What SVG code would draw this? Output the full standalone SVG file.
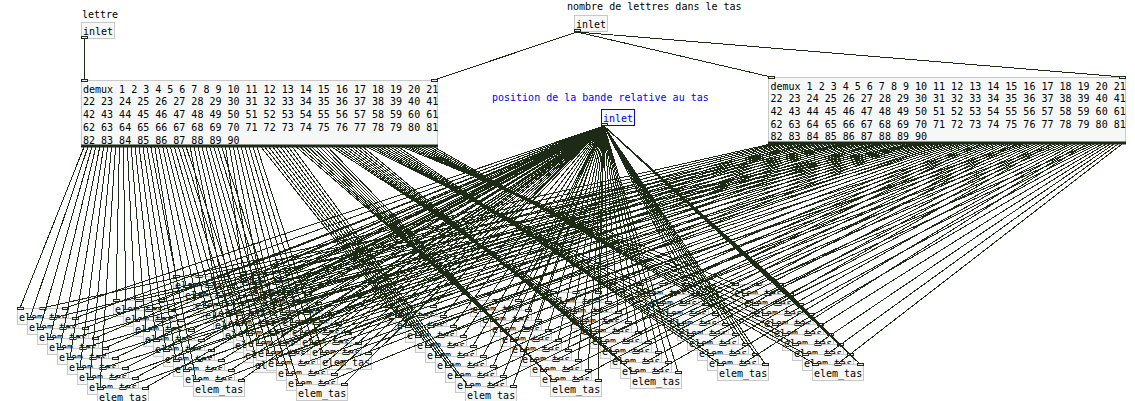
<svg xmlns="http://www.w3.org/2000/svg" xmlns:xlink="http://www.w3.org/1999/xlink" width="1135" height="401" viewBox="0 0 1135 401">
<style>
.b{fill:#f6f8f8;stroke:#c8c8c8;stroke-width:1}
.sel{fill:#f6f8f8;stroke:#0000ff;stroke-width:1}
.t{font-family:"DejaVu Sans Mono","Liberation Mono",monospace;font-size:10px;fill:#000}
.bl{fill:#0000ff}
.io{fill:#eef0ee;stroke:#1c2a16;stroke-width:1}
.band{fill:#1c2a16}
#connectors path{stroke:#1c2a16;stroke-width:1;fill:none}
</style>
<defs>
<g id="io3"><rect class="io" x="0.5" y="-0.5" width="6" height="2"/><rect class="io" x="23" y="-0.5" width="6" height="2"/><rect class="io" x="45.5" y="-0.5" width="6" height="2"/></g>
</defs>
<rect width="1135" height="401" fill="#ffffff"/>
<g id="c_lettre"><text class="t" x="82" y="18">lettre</text></g>
<g id="inlet_lettre"><rect class="b" x="81.5" y="22.5" width="33" height="16"/><text class="t" x="83" y="34.5">inlet</text><rect class="io" x="81.5" y="36.5" width="6" height="2"/></g>
<g id="c_nombre"><text class="t" x="567" y="10">nombre de lettres dans le tas</text></g>
<g id="inlet_nombre"><rect class="b" x="574.5" y="15.5" width="33" height="16"/><text class="t" x="576" y="27.5">inlet</text><rect class="io" x="574.5" y="29.5" width="6" height="2"/></g>
<g id="c_position"><text class="t bl" x="492" y="101">position de la bande relative au tas</text></g>
<g id="inlet_position"><rect class="sel" x="601.5" y="109.5" width="33" height="16"/><text class="t bl" x="603" y="121.5">inlet</text><rect class="io" x="601.5" y="123.5" width="6" height="2"/></g>
<g id="demux_lettre"><rect class="b" x="81.5" y="80.5" width="356" height="66"/>
<text class="t" x="83" y="92.7">demux 1 2 3 4 5 6 7 8 9 10 11 12 13 14 15 16 17 18 19 20 21</text>
<text class="t" x="83" y="105.4">22 23 24 25 26 27 28 29 30 31 32 33 34 35 36 37 38 39 40 41</text>
<text class="t" x="83" y="118.1">42 43 44 45 46 47 48 49 50 51 52 53 54 55 56 57 58 59 60 61</text>
<text class="t" x="83" y="130.8">62 63 64 65 66 67 68 69 70 71 72 73 74 75 76 77 78 79 80 81</text>
<text class="t" x="83" y="143.5">82 83 84 85 86 87 88 89 90</text>
<rect class="io" x="81.5" y="79.5" width="6" height="2"/><rect class="io" x="431.5" y="79.5" width="6" height="2"/>
<rect class="band" x="81" y="144.5" width="357" height="3"/></g>
<g id="demux_nombre"><rect class="b" x="768.5" y="77.5" width="357" height="66"/>
<text class="t" x="770.5" y="89.5">demux 1 2 3 4 5 6 7 8 9 10 11 12 13 14 15 16 17 18 19 20 21</text>
<text class="t" x="770.5" y="102.2">22 23 24 25 26 27 28 29 30 31 32 33 34 35 36 37 38 39 40 41</text>
<text class="t" x="770.5" y="114.9">42 43 44 45 46 47 48 49 50 51 52 53 54 55 56 57 58 59 60 61</text>
<text class="t" x="770.5" y="127.6">62 63 64 65 66 67 68 69 70 71 72 73 74 75 76 77 78 79 80 81</text>
<text class="t" x="770.5" y="140.3">82 83 84 85 86 87 88 89 90</text>
<rect class="io" x="768.5" y="76.5" width="6" height="2"/><rect class="io" x="1119.5" y="76.5" width="6" height="2"/>
<rect class="band" x="768" y="141.5" width="358" height="3"/></g>
<g id="elem0" transform="translate(17 308)"><rect class="b" x="0.5" y="0.5" width="51" height="16"/><text class="t" x="2" y="13">elem_tas</text><use href="#io3"/></g>
<g id="elem1" transform="translate(27 318)"><rect class="b" x="0.5" y="0.5" width="51" height="16"/><text class="t" x="2" y="13">elem_tas</text><use href="#io3"/></g>
<g id="elem2" transform="translate(37 328)"><rect class="b" x="0.5" y="0.5" width="51" height="16"/><text class="t" x="2" y="13">elem_tas</text><use href="#io3"/></g>
<g id="elem3" transform="translate(47 338)"><rect class="b" x="0.5" y="0.5" width="51" height="16"/><text class="t" x="2" y="13">elem_tas</text><use href="#io3"/></g>
<g id="elem4" transform="translate(57 348)"><rect class="b" x="0.5" y="0.5" width="51" height="16"/><text class="t" x="2" y="13">elem_tas</text><use href="#io3"/></g>
<g id="elem5" transform="translate(67 358)"><rect class="b" x="0.5" y="0.5" width="51" height="16"/><text class="t" x="2" y="13">elem_tas</text><use href="#io3"/></g>
<g id="elem6" transform="translate(77 368)"><rect class="b" x="0.5" y="0.5" width="51" height="16"/><text class="t" x="2" y="13">elem_tas</text><use href="#io3"/></g>
<g id="elem7" transform="translate(87 378)"><rect class="b" x="0.5" y="0.5" width="51" height="16"/><text class="t" x="2" y="13">elem_tas</text><use href="#io3"/></g>
<g id="elem8" transform="translate(97 388)"><rect class="b" x="0.5" y="0.5" width="51" height="16"/><text class="t" x="2" y="13">elem_tas</text><use href="#io3"/></g>
<g id="elem9" transform="translate(113 300)"><rect class="b" x="0.5" y="0.5" width="51" height="16"/><text class="t" x="2" y="13">elem_tas</text><use href="#io3"/></g>
<g id="elem10" transform="translate(123 310)"><rect class="b" x="0.5" y="0.5" width="51" height="16"/><text class="t" x="2" y="13">elem_tas</text><use href="#io3"/></g>
<g id="elem11" transform="translate(133 320)"><rect class="b" x="0.5" y="0.5" width="51" height="16"/><text class="t" x="2" y="13">elem_tas</text><use href="#io3"/></g>
<g id="elem12" transform="translate(143 330)"><rect class="b" x="0.5" y="0.5" width="51" height="16"/><text class="t" x="2" y="13">elem_tas</text><use href="#io3"/></g>
<g id="elem13" transform="translate(153 340)"><rect class="b" x="0.5" y="0.5" width="51" height="16"/><text class="t" x="2" y="13">elem_tas</text><use href="#io3"/></g>
<g id="elem14" transform="translate(163 350)"><rect class="b" x="0.5" y="0.5" width="51" height="16"/><text class="t" x="2" y="13">elem_tas</text><use href="#io3"/></g>
<g id="elem15" transform="translate(173 360)"><rect class="b" x="0.5" y="0.5" width="51" height="16"/><text class="t" x="2" y="13">elem_tas</text><use href="#io3"/></g>
<g id="elem16" transform="translate(183 370)"><rect class="b" x="0.5" y="0.5" width="51" height="16"/><text class="t" x="2" y="13">elem_tas</text><use href="#io3"/></g>
<g id="elem17" transform="translate(193 380)"><rect class="b" x="0.5" y="0.5" width="51" height="16"/><text class="t" x="2" y="13">elem_tas</text><use href="#io3"/></g>
<g id="elem18" transform="translate(173 276)"><rect class="b" x="0.5" y="0.5" width="51" height="16"/><text class="t" x="2" y="13">elem_tas</text><use href="#io3"/></g>
<g id="elem19" transform="translate(183 286)"><rect class="b" x="0.5" y="0.5" width="51" height="16"/><text class="t" x="2" y="13">elem_tas</text><use href="#io3"/></g>
<g id="elem20" transform="translate(193 296)"><rect class="b" x="0.5" y="0.5" width="51" height="16"/><text class="t" x="2" y="13">elem_tas</text><use href="#io3"/></g>
<g id="elem21" transform="translate(203 306)"><rect class="b" x="0.5" y="0.5" width="51" height="16"/><text class="t" x="2" y="13">elem_tas</text><use href="#io3"/></g>
<g id="elem22" transform="translate(213 316)"><rect class="b" x="0.5" y="0.5" width="51" height="16"/><text class="t" x="2" y="13">elem_tas</text><use href="#io3"/></g>
<g id="elem23" transform="translate(223 326)"><rect class="b" x="0.5" y="0.5" width="51" height="16"/><text class="t" x="2" y="13">elem_tas</text><use href="#io3"/></g>
<g id="elem24" transform="translate(233 336)"><rect class="b" x="0.5" y="0.5" width="51" height="16"/><text class="t" x="2" y="13">elem_tas</text><use href="#io3"/></g>
<g id="elem25" transform="translate(243 346)"><rect class="b" x="0.5" y="0.5" width="51" height="16"/><text class="t" x="2" y="13">elem_tas</text><use href="#io3"/></g>
<g id="elem26" transform="translate(253 356)"><rect class="b" x="0.5" y="0.5" width="51" height="16"/><text class="t" x="2" y="13">elem_tas</text><use href="#io3"/></g>
<g id="elem27" transform="translate(216 304)"><rect class="b" x="0.5" y="0.5" width="51" height="16"/><text class="t" x="2" y="13">elem_tas</text><use href="#io3"/></g>
<g id="elem28" transform="translate(226 314)"><rect class="b" x="0.5" y="0.5" width="51" height="16"/><text class="t" x="2" y="13">elem_tas</text><use href="#io3"/></g>
<g id="elem29" transform="translate(236 324)"><rect class="b" x="0.5" y="0.5" width="51" height="16"/><text class="t" x="2" y="13">elem_tas</text><use href="#io3"/></g>
<g id="elem30" transform="translate(246 334)"><rect class="b" x="0.5" y="0.5" width="51" height="16"/><text class="t" x="2" y="13">elem_tas</text><use href="#io3"/></g>
<g id="elem31" transform="translate(256 344)"><rect class="b" x="0.5" y="0.5" width="51" height="16"/><text class="t" x="2" y="13">elem_tas</text><use href="#io3"/></g>
<g id="elem32" transform="translate(266 354)"><rect class="b" x="0.5" y="0.5" width="51" height="16"/><text class="t" x="2" y="13">elem_tas</text><use href="#io3"/></g>
<g id="elem33" transform="translate(276 364)"><rect class="b" x="0.5" y="0.5" width="51" height="16"/><text class="t" x="2" y="13">elem_tas</text><use href="#io3"/></g>
<g id="elem34" transform="translate(286 374)"><rect class="b" x="0.5" y="0.5" width="51" height="16"/><text class="t" x="2" y="13">elem_tas</text><use href="#io3"/></g>
<g id="elem35" transform="translate(296 384)"><rect class="b" x="0.5" y="0.5" width="51" height="16"/><text class="t" x="2" y="13">elem_tas</text><use href="#io3"/></g>
<g id="elem36" transform="translate(240 273)"><rect class="b" x="0.5" y="0.5" width="51" height="16"/><text class="t" x="2" y="13">elem_tas</text><use href="#io3"/></g>
<g id="elem37" transform="translate(250 283)"><rect class="b" x="0.5" y="0.5" width="51" height="16"/><text class="t" x="2" y="13">elem_tas</text><use href="#io3"/></g>
<g id="elem38" transform="translate(260 293)"><rect class="b" x="0.5" y="0.5" width="51" height="16"/><text class="t" x="2" y="13">elem_tas</text><use href="#io3"/></g>
<g id="elem39" transform="translate(270 303)"><rect class="b" x="0.5" y="0.5" width="51" height="16"/><text class="t" x="2" y="13">elem_tas</text><use href="#io3"/></g>
<g id="elem40" transform="translate(280 313)"><rect class="b" x="0.5" y="0.5" width="51" height="16"/><text class="t" x="2" y="13">elem_tas</text><use href="#io3"/></g>
<g id="elem41" transform="translate(290 323)"><rect class="b" x="0.5" y="0.5" width="51" height="16"/><text class="t" x="2" y="13">elem_tas</text><use href="#io3"/></g>
<g id="elem42" transform="translate(300 333)"><rect class="b" x="0.5" y="0.5" width="51" height="16"/><text class="t" x="2" y="13">elem_tas</text><use href="#io3"/></g>
<g id="elem43" transform="translate(310 343)"><rect class="b" x="0.5" y="0.5" width="51" height="16"/><text class="t" x="2" y="13">elem_tas</text><use href="#io3"/></g>
<g id="elem44" transform="translate(320 353)"><rect class="b" x="0.5" y="0.5" width="51" height="16"/><text class="t" x="2" y="13">elem_tas</text><use href="#io3"/></g>
<g id="elem45" transform="translate(385 306)"><rect class="b" x="0.5" y="0.5" width="51" height="16"/><text class="t" x="2" y="13">elem_tas</text><use href="#io3"/></g>
<g id="elem46" transform="translate(395 316)"><rect class="b" x="0.5" y="0.5" width="51" height="16"/><text class="t" x="2" y="13">elem_tas</text><use href="#io3"/></g>
<g id="elem47" transform="translate(405 326)"><rect class="b" x="0.5" y="0.5" width="51" height="16"/><text class="t" x="2" y="13">elem_tas</text><use href="#io3"/></g>
<g id="elem48" transform="translate(415 336)"><rect class="b" x="0.5" y="0.5" width="51" height="16"/><text class="t" x="2" y="13">elem_tas</text><use href="#io3"/></g>
<g id="elem49" transform="translate(425 346)"><rect class="b" x="0.5" y="0.5" width="51" height="16"/><text class="t" x="2" y="13">elem_tas</text><use href="#io3"/></g>
<g id="elem50" transform="translate(435 356)"><rect class="b" x="0.5" y="0.5" width="51" height="16"/><text class="t" x="2" y="13">elem_tas</text><use href="#io3"/></g>
<g id="elem51" transform="translate(445 366)"><rect class="b" x="0.5" y="0.5" width="51" height="16"/><text class="t" x="2" y="13">elem_tas</text><use href="#io3"/></g>
<g id="elem52" transform="translate(455 376)"><rect class="b" x="0.5" y="0.5" width="51" height="16"/><text class="t" x="2" y="13">elem_tas</text><use href="#io3"/></g>
<g id="elem53" transform="translate(465 386)"><rect class="b" x="0.5" y="0.5" width="51" height="16"/><text class="t" x="2" y="13">elem_tas</text><use href="#io3"/></g>
<g id="elem54" transform="translate(470 300)"><rect class="b" x="0.5" y="0.5" width="51" height="16"/><text class="t" x="2" y="13">elem_tas</text><use href="#io3"/></g>
<g id="elem55" transform="translate(480 310)"><rect class="b" x="0.5" y="0.5" width="51" height="16"/><text class="t" x="2" y="13">elem_tas</text><use href="#io3"/></g>
<g id="elem56" transform="translate(490 320)"><rect class="b" x="0.5" y="0.5" width="51" height="16"/><text class="t" x="2" y="13">elem_tas</text><use href="#io3"/></g>
<g id="elem57" transform="translate(500 330)"><rect class="b" x="0.5" y="0.5" width="51" height="16"/><text class="t" x="2" y="13">elem_tas</text><use href="#io3"/></g>
<g id="elem58" transform="translate(510 340)"><rect class="b" x="0.5" y="0.5" width="51" height="16"/><text class="t" x="2" y="13">elem_tas</text><use href="#io3"/></g>
<g id="elem59" transform="translate(520 350)"><rect class="b" x="0.5" y="0.5" width="51" height="16"/><text class="t" x="2" y="13">elem_tas</text><use href="#io3"/></g>
<g id="elem60" transform="translate(530 360)"><rect class="b" x="0.5" y="0.5" width="51" height="16"/><text class="t" x="2" y="13">elem_tas</text><use href="#io3"/></g>
<g id="elem61" transform="translate(540 370)"><rect class="b" x="0.5" y="0.5" width="51" height="16"/><text class="t" x="2" y="13">elem_tas</text><use href="#io3"/></g>
<g id="elem62" transform="translate(550 380)"><rect class="b" x="0.5" y="0.5" width="51" height="16"/><text class="t" x="2" y="13">elem_tas</text><use href="#io3"/></g>
<g id="elem63" transform="translate(550 292)"><rect class="b" x="0.5" y="0.5" width="51" height="16"/><text class="t" x="2" y="13">elem_tas</text><use href="#io3"/></g>
<g id="elem64" transform="translate(560 302)"><rect class="b" x="0.5" y="0.5" width="51" height="16"/><text class="t" x="2" y="13">elem_tas</text><use href="#io3"/></g>
<g id="elem65" transform="translate(570 312)"><rect class="b" x="0.5" y="0.5" width="51" height="16"/><text class="t" x="2" y="13">elem_tas</text><use href="#io3"/></g>
<g id="elem66" transform="translate(580 322)"><rect class="b" x="0.5" y="0.5" width="51" height="16"/><text class="t" x="2" y="13">elem_tas</text><use href="#io3"/></g>
<g id="elem67" transform="translate(590 332)"><rect class="b" x="0.5" y="0.5" width="51" height="16"/><text class="t" x="2" y="13">elem_tas</text><use href="#io3"/></g>
<g id="elem68" transform="translate(600 342)"><rect class="b" x="0.5" y="0.5" width="51" height="16"/><text class="t" x="2" y="13">elem_tas</text><use href="#io3"/></g>
<g id="elem69" transform="translate(610 352)"><rect class="b" x="0.5" y="0.5" width="51" height="16"/><text class="t" x="2" y="13">elem_tas</text><use href="#io3"/></g>
<g id="elem70" transform="translate(620 362)"><rect class="b" x="0.5" y="0.5" width="51" height="16"/><text class="t" x="2" y="13">elem_tas</text><use href="#io3"/></g>
<g id="elem71" transform="translate(630 372)"><rect class="b" x="0.5" y="0.5" width="51" height="16"/><text class="t" x="2" y="13">elem_tas</text><use href="#io3"/></g>
<g id="elem72" transform="translate(637 284)"><rect class="b" x="0.5" y="0.5" width="51" height="16"/><text class="t" x="2" y="13">elem_tas</text><use href="#io3"/></g>
<g id="elem73" transform="translate(647 294)"><rect class="b" x="0.5" y="0.5" width="51" height="16"/><text class="t" x="2" y="13">elem_tas</text><use href="#io3"/></g>
<g id="elem74" transform="translate(657 304)"><rect class="b" x="0.5" y="0.5" width="51" height="16"/><text class="t" x="2" y="13">elem_tas</text><use href="#io3"/></g>
<g id="elem75" transform="translate(667 314)"><rect class="b" x="0.5" y="0.5" width="51" height="16"/><text class="t" x="2" y="13">elem_tas</text><use href="#io3"/></g>
<g id="elem76" transform="translate(677 324)"><rect class="b" x="0.5" y="0.5" width="51" height="16"/><text class="t" x="2" y="13">elem_tas</text><use href="#io3"/></g>
<g id="elem77" transform="translate(687 334)"><rect class="b" x="0.5" y="0.5" width="51" height="16"/><text class="t" x="2" y="13">elem_tas</text><use href="#io3"/></g>
<g id="elem78" transform="translate(697 344)"><rect class="b" x="0.5" y="0.5" width="51" height="16"/><text class="t" x="2" y="13">elem_tas</text><use href="#io3"/></g>
<g id="elem79" transform="translate(707 354)"><rect class="b" x="0.5" y="0.5" width="51" height="16"/><text class="t" x="2" y="13">elem_tas</text><use href="#io3"/></g>
<g id="elem80" transform="translate(717 364)"><rect class="b" x="0.5" y="0.5" width="51" height="16"/><text class="t" x="2" y="13">elem_tas</text><use href="#io3"/></g>
<g id="elem81" transform="translate(732 284)"><rect class="b" x="0.5" y="0.5" width="51" height="16"/><text class="t" x="2" y="13">elem_tas</text><use href="#io3"/></g>
<g id="elem82" transform="translate(742 294)"><rect class="b" x="0.5" y="0.5" width="51" height="16"/><text class="t" x="2" y="13">elem_tas</text><use href="#io3"/></g>
<g id="elem83" transform="translate(752 304)"><rect class="b" x="0.5" y="0.5" width="51" height="16"/><text class="t" x="2" y="13">elem_tas</text><use href="#io3"/></g>
<g id="elem84" transform="translate(762 314)"><rect class="b" x="0.5" y="0.5" width="51" height="16"/><text class="t" x="2" y="13">elem_tas</text><use href="#io3"/></g>
<g id="elem85" transform="translate(772 324)"><rect class="b" x="0.5" y="0.5" width="51" height="16"/><text class="t" x="2" y="13">elem_tas</text><use href="#io3"/></g>
<g id="elem86" transform="translate(782 334)"><rect class="b" x="0.5" y="0.5" width="51" height="16"/><text class="t" x="2" y="13">elem_tas</text><use href="#io3"/></g>
<g id="elem87" transform="translate(792 344)"><rect class="b" x="0.5" y="0.5" width="51" height="16"/><text class="t" x="2" y="13">elem_tas</text><use href="#io3"/></g>
<g id="elem88" transform="translate(802 354)"><rect class="b" x="0.5" y="0.5" width="51" height="16"/><text class="t" x="2" y="13">elem_tas</text><use href="#io3"/></g>
<g id="elem89" transform="translate(812 364)"><rect class="b" x="0.5" y="0.5" width="51" height="16"/><text class="t" x="2" y="13">elem_tas</text><use href="#io3"/></g>
<g id="connectors" shape-rendering="crispEdges">
<path d="M84 38L84 80"/>
<path d="M577 32L434 80"/>
<path d="M577 32L771 77"/>
<path d="M577 32L1123 77"/>
<path d="M84 147L20 308"/><path d="M87.9 147L30 318"/><path d="M91.9 147L40 328"/><path d="M95.8 147L50 338"/><path d="M99.7 147L60 348"/><path d="M103.7 147L70 358"/><path d="M107.6 147L80 368"/><path d="M111.5 147L90 378"/><path d="M115.5 147L100 388"/>
<path d="M119.4 147L116 300"/><path d="M123.3 147L126 310"/><path d="M127.3 147L136 320"/><path d="M131.2 147L146 330"/><path d="M135.1 147L156 340"/><path d="M139.1 147L166 350"/><path d="M143 147L176 360"/><path d="M146.9 147L186 370"/><path d="M150.9 147L196 380"/>
<path d="M154.8 147L176 276"/><path d="M158.7 147L186 286"/><path d="M162.7 147L196 296"/><path d="M166.6 147L206 306"/><path d="M170.5 147L216 316"/><path d="M174.4 147L226 326"/><path d="M178.4 147L236 336"/><path d="M182.3 147L246 346"/><path d="M186.2 147L256 356"/>
<path d="M190.2 147L219 304"/><path d="M194.1 147L229 314"/><path d="M198 147L239 324"/><path d="M202 147L249 334"/><path d="M205.9 147L259 344"/><path d="M209.8 147L269 354"/><path d="M213.8 147L279 364"/><path d="M217.7 147L289 374"/><path d="M221.6 147L299 384"/>
<path d="M225.6 147L243 273"/><path d="M229.5 147L253 283"/><path d="M233.4 147L263 293"/><path d="M237.4 147L273 303"/><path d="M241.3 147L283 313"/><path d="M245.2 147L293 323"/><path d="M249.2 147L303 333"/><path d="M253.1 147L313 343"/><path d="M257 147L323 353"/>
<path d="M261 147L388 306"/><path d="M264.9 147L398 316"/><path d="M268.8 147L408 326"/><path d="M272.8 147L418 336"/><path d="M276.7 147L428 346"/><path d="M280.6 147L438 356"/><path d="M284.6 147L448 366"/><path d="M288.5 147L458 376"/><path d="M292.4 147L468 386"/>
<path d="M296.4 147L473 300"/><path d="M300.3 147L483 310"/><path d="M304.2 147L493 320"/><path d="M308.2 147L503 330"/><path d="M312.1 147L513 340"/><path d="M316 147L523 350"/><path d="M320 147L533 360"/><path d="M323.9 147L543 370"/><path d="M327.8 147L553 380"/>
<path d="M331.8 147L553 292"/><path d="M335.7 147L563 302"/><path d="M339.6 147L573 312"/><path d="M343.6 147L583 322"/><path d="M347.5 147L593 332"/><path d="M351.4 147L603 342"/><path d="M355.3 147L613 352"/><path d="M359.3 147L623 362"/><path d="M363.2 147L633 372"/>
<path d="M367.1 147L640 284"/><path d="M371.1 147L650 294"/><path d="M375 147L660 304"/><path d="M378.9 147L670 314"/><path d="M382.9 147L680 324"/><path d="M386.8 147L690 334"/><path d="M390.7 147L700 344"/><path d="M394.7 147L710 354"/><path d="M398.6 147L720 364"/>
<path d="M402.5 147L735 284"/><path d="M406.5 147L745 294"/><path d="M410.4 147L755 304"/><path d="M414.3 147L765 314"/><path d="M418.3 147L775 324"/><path d="M422.2 147L785 334"/><path d="M426.1 147L795 344"/><path d="M430.1 147L805 354"/><path d="M434 147L815 364"/>
<path d="M771 144L42.5 308"/><path d="M774.9 144L52.5 318"/><path d="M778.9 144L62.5 328"/><path d="M782.8 144L72.5 338"/><path d="M786.8 144L82.5 348"/><path d="M790.7 144L92.5 358"/><path d="M794.7 144L102.5 368"/><path d="M798.6 144L112.5 378"/><path d="M802.6 144L122.5 388"/>
<path d="M806.5 144L138.5 300"/><path d="M810.4 144L148.5 310"/><path d="M814.4 144L158.5 320"/><path d="M818.3 144L168.5 330"/><path d="M822.3 144L178.5 340"/><path d="M826.2 144L188.5 350"/><path d="M830.2 144L198.5 360"/><path d="M834.1 144L208.5 370"/><path d="M838 144L218.5 380"/>
<path d="M842 144L198.5 276"/><path d="M845.9 144L208.5 286"/><path d="M849.9 144L218.5 296"/><path d="M853.8 144L228.5 306"/><path d="M857.8 144L238.5 316"/><path d="M861.7 144L248.5 326"/><path d="M865.7 144L258.5 336"/><path d="M869.6 144L268.5 346"/><path d="M873.5 144L278.5 356"/>
<path d="M877.5 144L241.5 304"/><path d="M881.4 144L251.5 314"/><path d="M885.4 144L261.5 324"/><path d="M889.3 144L271.5 334"/><path d="M893.3 144L281.5 344"/><path d="M897.2 144L291.5 354"/><path d="M901.1 144L301.5 364"/><path d="M905.1 144L311.5 374"/><path d="M909 144L321.5 384"/>
<path d="M913 144L265.5 273"/><path d="M916.9 144L275.5 283"/><path d="M920.9 144L285.5 293"/><path d="M924.8 144L295.5 303"/><path d="M928.8 144L305.5 313"/><path d="M932.7 144L315.5 323"/><path d="M936.6 144L325.5 333"/><path d="M940.6 144L335.5 343"/><path d="M944.5 144L345.5 353"/>
<path d="M948.5 144L410.5 306"/><path d="M952.4 144L420.5 316"/><path d="M956.4 144L430.5 326"/><path d="M960.3 144L440.5 336"/><path d="M964.2 144L450.5 346"/><path d="M968.2 144L460.5 356"/><path d="M972.1 144L470.5 366"/><path d="M976.1 144L480.5 376"/><path d="M980 144L490.5 386"/>
<path d="M984 144L495.5 300"/><path d="M987.9 144L505.5 310"/><path d="M991.9 144L515.5 320"/><path d="M995.8 144L525.5 330"/><path d="M999.7 144L535.5 340"/><path d="M1003.7 144L545.5 350"/><path d="M1007.6 144L555.5 360"/><path d="M1011.6 144L565.5 370"/><path d="M1015.5 144L575.5 380"/>
<path d="M1019.5 144L575.5 292"/><path d="M1023.4 144L585.5 302"/><path d="M1027.3 144L595.5 312"/><path d="M1031.3 144L605.5 322"/><path d="M1035.2 144L615.5 332"/><path d="M1039.2 144L625.5 342"/><path d="M1043.1 144L635.5 352"/><path d="M1047.1 144L645.5 362"/><path d="M1051 144L655.5 372"/>
<path d="M1055 144L662.5 284"/><path d="M1058.9 144L672.5 294"/><path d="M1062.8 144L682.5 304"/><path d="M1066.8 144L692.5 314"/><path d="M1070.7 144L702.5 324"/><path d="M1074.7 144L712.5 334"/><path d="M1078.6 144L722.5 344"/><path d="M1082.6 144L732.5 354"/><path d="M1086.5 144L742.5 364"/>
<path d="M1090.5 144L757.5 284"/><path d="M1094.4 144L767.5 294"/><path d="M1098.3 144L777.5 304"/><path d="M1102.3 144L787.5 314"/><path d="M1106.2 144L797.5 324"/><path d="M1110.2 144L807.5 334"/><path d="M1114.1 144L817.5 344"/><path d="M1118.1 144L827.5 354"/><path d="M1122 144L837.5 364"/>
<path d="M604 126L65 308"/><path d="M604 126L75 318"/><path d="M604 126L85 328"/><path d="M604 126L95 338"/><path d="M604 126L105 348"/><path d="M604 126L115 358"/><path d="M604 126L125 368"/><path d="M604 126L135 378"/><path d="M604 126L145 388"/>
<path d="M604 126L161 300"/><path d="M604 126L171 310"/><path d="M604 126L181 320"/><path d="M604 126L191 330"/><path d="M604 126L201 340"/><path d="M604 126L211 350"/><path d="M604 126L221 360"/><path d="M604 126L231 370"/><path d="M604 126L241 380"/>
<path d="M604 126L221 276"/><path d="M604 126L231 286"/><path d="M604 126L241 296"/><path d="M604 126L251 306"/><path d="M604 126L261 316"/><path d="M604 126L271 326"/><path d="M604 126L281 336"/><path d="M604 126L291 346"/><path d="M604 126L301 356"/>
<path d="M604 126L264 304"/><path d="M604 126L274 314"/><path d="M604 126L284 324"/><path d="M604 126L294 334"/><path d="M604 126L304 344"/><path d="M604 126L314 354"/><path d="M604 126L324 364"/><path d="M604 126L334 374"/><path d="M604 126L344 384"/>
<path d="M604 126L288 273"/><path d="M604 126L298 283"/><path d="M604 126L308 293"/><path d="M604 126L318 303"/><path d="M604 126L328 313"/><path d="M604 126L338 323"/><path d="M604 126L348 333"/><path d="M604 126L358 343"/><path d="M604 126L368 353"/>
<path d="M604 126L433 306"/><path d="M604 126L443 316"/><path d="M604 126L453 326"/><path d="M604 126L463 336"/><path d="M604 126L473 346"/><path d="M604 126L483 356"/><path d="M604 126L493 366"/><path d="M604 126L503 376"/><path d="M604 126L513 386"/>
<path d="M604 126L518 300"/><path d="M604 126L528 310"/><path d="M604 126L538 320"/><path d="M604 126L548 330"/><path d="M604 126L558 340"/><path d="M604 126L568 350"/><path d="M604 126L578 360"/><path d="M604 126L588 370"/><path d="M604 126L598 380"/>
<path d="M604 126L598 292"/><path d="M604 126L608 302"/><path d="M604 126L618 312"/><path d="M604 126L628 322"/><path d="M604 126L638 332"/><path d="M604 126L648 342"/><path d="M604 126L658 352"/><path d="M604 126L668 362"/><path d="M604 126L678 372"/>
<path d="M604 126L685 284"/><path d="M604 126L695 294"/><path d="M604 126L705 304"/><path d="M604 126L715 314"/><path d="M604 126L725 324"/><path d="M604 126L735 334"/><path d="M604 126L745 344"/><path d="M604 126L755 354"/><path d="M604 126L765 364"/>
<path d="M604 126L780 284"/><path d="M604 126L790 294"/><path d="M604 126L800 304"/><path d="M604 126L810 314"/><path d="M604 126L820 324"/><path d="M604 126L830 334"/><path d="M604 126L840 344"/><path d="M604 126L850 354"/><path d="M604 126L860 364"/>
</g>
</svg>
